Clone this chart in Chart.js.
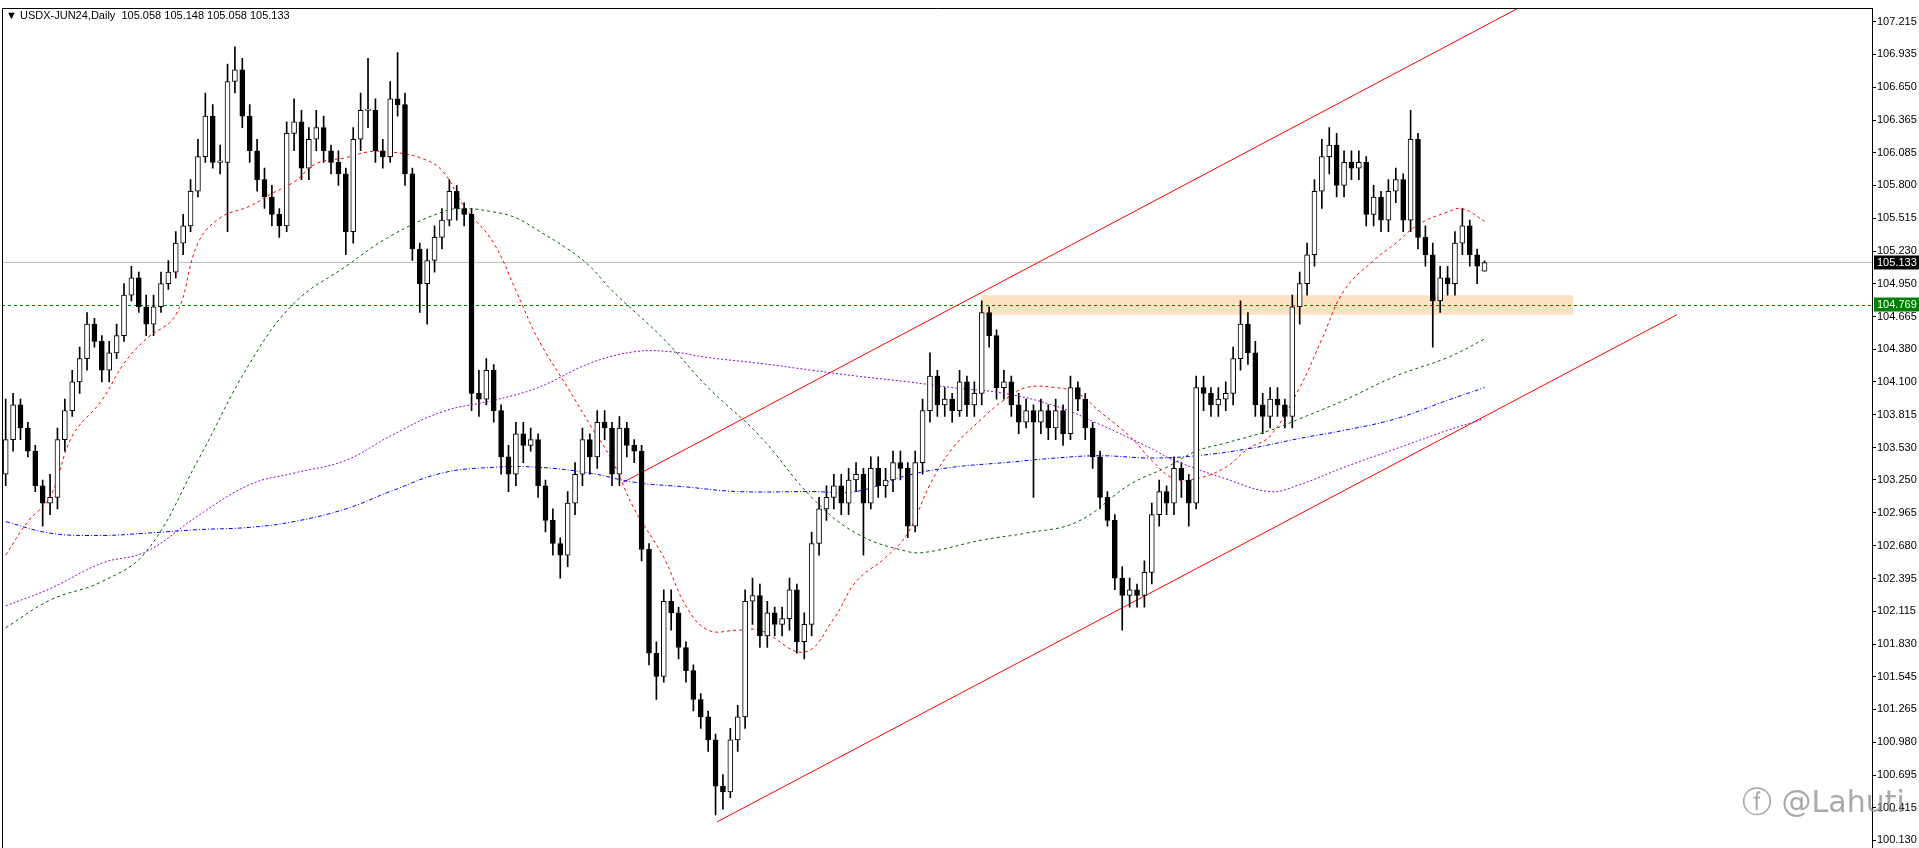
<!DOCTYPE html>
<html><head><meta charset="utf-8">
<script src="https://cdn.jsdelivr.net/npm/chart.js@4.4.1/dist/chart.umd.min.js"></script>
<style>html,body{margin:0;padding:0;background:#fff;overflow:hidden}#wrap{width:1919px;height:848px;position:relative}</style>
</head><body><div id="wrap"><canvas id="c"></canvas></div>
<script>
const opens=[103.3,103.6,103.9,103.7,103.5,103.2,103.05,103.1,103.6,103.85,
104.1,104.3,104.6,104.45,104.2,104.35,104.5,104.85,105.0,104.75,
104.6,104.75,104.95,105.05,105.3,105.45,105.75,106.05,106.4,106.0,
106.0,106.7,106.8,106.4,106.1,105.85,105.7,105.55,105.45,106.25,
106.35,105.95,106.2,106.3,106.1,106.0,105.9,105.4,106.2,106.45,
106.45,106.1,106.05,106.55,106.5,105.9,105.25,104.95,105.15,105.35,
105.5,105.75,105.6,105.55,104.0,103.95,104.2,103.85,103.45,103.3,
103.65,103.55,103.6,103.2,102.9,102.7,102.6,103.05,103.3,103.6,
103.45,103.75,103.7,103.3,103.7,103.55,103.5,102.65,101.75,101.55,
102.2,102.1,101.8,101.6,101.35,101.2,101.0,100.6,100.55,101.0,
101.2,102.2,102.25,101.9,102.1,102.0,102.05,102.3,101.85,102.0,
102.7,103.0,103.1,103.2,103.05,103.25,103.3,103.05,103.35,103.2,
103.25,103.4,103.35,102.85,103.4,103.85,104.15,103.9,103.95,103.85,
104.1,103.9,104.0,104.7,104.5,104.05,104.1,103.9,103.75,103.85,
103.75,103.85,103.7,103.85,103.65,104.05,103.95,103.7,103.45,103.1,
102.9,102.4,102.25,102.3,102.25,102.45,102.95,103.15,103.05,103.35,
103.25,103.05,104.05,104.0,103.9,103.95,104.0,104.3,104.6,104.35,
103.9,103.8,103.95,103.9,103.8,104.75,104.95,105.2,105.75,106.05,
106.15,105.8,106.0,105.95,106.0,105.55,105.7,105.5,105.75,105.85,
105.5,106.2,105.35,105.2,104.8,105.0,104.95,105.3,105.45,105.2,
105.058];
const highs=[103.95,104.0,103.95,103.75,103.55,103.25,103.3,103.7,103.95,104.2,
104.4,104.7,104.65,104.5,104.45,104.6,104.95,105.1,105.05,104.85,
104.85,105.05,105.15,105.4,105.55,105.85,106.2,106.6,106.5,106.15,
106.85,107.0,106.9,106.5,106.2,105.95,105.8,105.6,106.35,106.55,
106.45,106.3,106.45,106.4,106.15,106.1,105.95,106.3,106.6,106.9,
106.55,106.2,106.7,106.95,106.6,105.95,105.3,105.25,105.45,105.6,
105.85,105.8,105.65,105.6,104.2,104.3,104.25,103.9,103.55,103.75,
103.75,103.7,103.65,103.25,103.0,102.75,103.15,103.4,103.7,103.65,
103.85,103.85,103.75,103.8,103.75,103.6,103.55,102.7,101.85,102.3,
102.3,102.15,101.85,101.65,101.4,101.25,101.05,100.7,101.1,101.3,
102.3,102.4,102.35,102.2,102.15,102.15,102.4,102.35,102.1,102.8,
103.1,103.2,103.3,103.3,103.35,103.4,103.35,103.45,103.45,103.35,
103.5,103.5,103.4,103.5,103.95,104.35,104.2,104.05,104.0,104.2,
104.15,104.1,104.8,104.75,104.55,104.2,104.15,104.0,103.95,103.9,
103.95,103.9,103.95,103.9,104.15,104.1,104.0,103.75,103.5,103.15,
102.95,102.5,102.4,102.35,102.55,103.05,103.25,103.2,103.45,103.4,
103.3,104.15,104.15,104.05,104.05,104.1,104.4,104.8,104.7,104.45,
104.0,104.05,104.05,103.95,104.85,105.05,105.3,105.85,106.2,106.3,
106.25,106.1,106.1,106.1,106.05,105.8,105.75,105.85,105.95,105.9,
106.45,106.25,105.45,105.3,105.1,105.1,105.4,105.6,105.5,105.25,
105.148];
const lows=[103.2,103.5,103.6,103.45,103.15,102.85,102.95,103.0,103.5,103.8,
104.0,104.2,104.4,104.1,104.1,104.3,104.45,104.8,104.7,104.5,
104.5,104.7,104.9,105.0,105.2,105.4,105.7,106.0,105.95,105.9,
105.4,106.6,106.3,106.0,105.75,105.6,105.45,105.35,105.4,106.1,
105.85,105.85,106.1,106.0,105.9,105.8,105.2,105.3,106.1,106.3,
106.0,105.95,106.0,106.4,105.8,105.15,104.7,104.6,105.05,105.25,
105.45,105.5,105.45,103.85,103.8,103.9,103.75,103.3,103.15,103.2,
103.4,103.5,103.1,102.8,102.6,102.4,102.5,102.95,103.2,103.3,
103.35,103.6,103.2,103.2,103.45,103.4,102.55,101.65,101.35,101.5,
101.95,101.7,101.5,101.25,101.1,100.9,100.35,100.4,100.5,100.9,
101.1,102.0,101.8,101.8,101.9,101.9,101.95,101.75,101.7,101.9,
102.6,102.9,103.0,102.95,102.95,103.15,102.6,103.0,103.1,103.1,
103.15,103.25,102.75,102.8,103.3,103.75,103.8,103.8,103.75,103.8,
103.8,103.8,103.9,104.4,103.95,103.95,103.8,103.65,103.7,103.1,
103.65,103.6,103.6,103.55,103.6,103.85,103.6,103.35,103.0,102.85,
102.3,101.95,102.15,102.15,102.15,102.35,102.85,102.95,102.95,103.1,
102.85,103.0,103.85,103.8,103.8,103.85,103.9,104.2,104.25,103.8,
103.65,103.7,103.8,103.7,103.7,104.6,104.85,105.1,105.6,105.9,
105.7,105.7,105.85,105.85,105.45,105.45,105.4,105.4,105.65,105.4,
105.4,105.25,105.1,104.4,104.7,104.85,104.85,105.2,105.1,104.95,
105.058];
const closes=[103.6,103.9,103.7,103.5,103.2,103.05,103.1,103.6,103.85,104.1,
104.3,104.6,104.45,104.2,104.35,104.5,104.85,105.0,104.75,104.6,
104.75,104.95,105.05,105.3,105.45,105.75,106.05,106.4,106.0,106.0,
106.7,106.8,106.4,106.1,105.85,105.7,105.55,105.45,106.25,106.35,
105.95,106.2,106.3,106.1,106.0,105.9,105.4,106.2,106.45,106.45,
106.1,106.05,106.55,106.5,105.9,105.25,104.95,105.15,105.35,105.5,
105.75,105.6,105.55,104.0,103.95,104.2,103.85,103.45,103.3,103.65,
103.55,103.6,103.2,102.9,102.7,102.6,103.05,103.3,103.6,103.45,
103.75,103.7,103.3,103.7,103.55,103.5,102.65,101.75,101.55,102.2,
102.1,101.8,101.6,101.35,101.2,101.0,100.6,100.55,101.0,101.2,
102.2,102.25,101.9,102.1,102.0,102.05,102.3,101.85,102.0,102.7,
103.0,103.1,103.2,103.05,103.25,103.3,103.05,103.35,103.2,103.25,
103.4,103.35,102.85,103.4,103.85,104.15,103.9,103.95,103.85,104.1,
103.9,104.0,104.7,104.5,104.05,104.1,103.9,103.75,103.85,103.75,
103.85,103.7,103.85,103.65,104.05,103.95,103.7,103.45,103.1,102.9,
102.4,102.25,102.3,102.25,102.45,102.95,103.15,103.05,103.35,103.25,
103.05,104.05,104.0,103.9,103.95,104.0,104.3,104.6,104.35,103.9,
103.8,103.95,103.9,103.8,104.75,104.95,105.2,105.75,106.05,106.15,
105.8,106.0,105.95,106.0,105.55,105.7,105.5,105.75,105.85,105.5,
106.2,105.35,105.2,104.8,105.0,104.95,105.3,105.45,105.2,105.1,
105.133];

const maFastIdx=[0,3,6,9,13,16,19,23,26,29,33,36,39,42,46,49,52,56,59,62,66,69,72,76,79,82,85,89,92,95,99,102,108,112,115,119,122,125,128,132,135,138,142,145,148,152,155,158,161,165,168,171,175,178,181,185,188,191,195,197,200];
const maFast=[102.60,102.89,103.10,103.63,103.94,104.26,104.47,104.68,105.30,105.52,105.62,105.73,105.83,105.99,106.04,106.09,106.09,106.04,105.93,105.62,105.30,104.89,104.47,104.05,103.73,103.42,103.00,102.58,102.16,101.95,101.95,101.95,101.76,102.05,102.37,102.58,102.79,103.21,103.52,103.78,103.94,104.05,104.05,104.00,103.84,103.63,103.42,103.26,103.26,103.36,103.52,103.63,104.05,104.47,104.89,105.15,105.30,105.46,105.57,105.60,105.49];
const maMidIdx=[0,6,13,19,26,33,39,46,52,59,62,66,69,72,76,79,82,89,95,102,109,115,122,125,132,138,145,152,157,161,165,171,175,181,188,195,200];
const maMid=[101.97,102.21,102.37,102.63,103.42,104.26,104.78,105.10,105.36,105.57,105.60,105.57,105.52,105.41,105.25,105.10,104.89,104.47,104.05,103.63,103.10,102.79,102.63,102.63,102.73,102.79,102.89,103.21,103.36,103.50,103.57,103.68,103.78,103.94,104.15,104.31,104.47];
const maSlowIdx=[0,6,13,19,26,33,39,46,52,59,66,72,79,85,90,95,102,109,115,122,128,135,142,148,155,158,165,171,175,181,188,195,200];
const maSlow=[102.16,102.31,102.53,102.63,102.94,103.21,103.31,103.42,103.63,103.84,103.94,104.05,104.26,104.36,104.36,104.31,104.26,104.20,104.15,104.10,104.05,104.00,103.89,103.73,103.52,103.42,103.26,103.15,103.21,103.36,103.52,103.68,103.78];
const maLongIdx=[0,6,13,19,26,33,39,46,52,59,66,72,79,85,92,99,109,115,122,128,135,142,148,155,161,168,175,181,188,195,200];
const maLong=[102.89,102.79,102.77,102.79,102.82,102.84,102.89,103.00,103.15,103.31,103.36,103.36,103.31,103.23,103.19,103.15,103.15,103.15,103.29,103.36,103.40,103.44,103.46,103.44,103.46,103.52,103.61,103.68,103.78,103.94,104.05];
const chanUpper=[[83.5,103.23],[205,107.35]];
const chanLower=[[96.2,100.29],[226,104.68]];
const yTicks=[107.215,106.935,106.650,106.365,106.085,105.800,105.515,105.230,104.950,104.665,104.380,104.100,103.815,103.530,103.250,102.965,102.680,102.395,102.115,101.830,101.545,101.265,100.980,100.695,100.415,100.130];
const lastPrice=105.133, levelPrice=104.769;
const zone={from:132,to:212,lo:104.68,hi:104.85};

const pts=(ix,v)=>ix.map((x,k)=>({x:x,y:v[k]}));
const wicks=closes.map((c,i)=>({x:i,y:[lows[i],highs[i]]}));
const bodies=closes.map((c,i)=>{let a=Math.min(opens[i],c),b=Math.max(opens[i],c);if(b-a<0.012)b=a+0.012;return {x:i,y:[a,b]};});
const bodyCol=closes.map((c,i)=>c>=opens[i]?'#ffffff':'#000000');
const FONT='"Liberation Sans", Arial, sans-serif';

const deco={id:'deco',
beforeDatasetsDraw(ch){const {ctx,chartArea:a,scales:{x,y}}=ch;ctx.save();
 ctx.fillStyle='#fde2c2';const x1=x.getPixelForValue(zone.from),x2=x.getPixelForValue(zone.to);
 const y1=y.getPixelForValue(zone.hi),y2=y.getPixelForValue(zone.lo);ctx.fillRect(x1,y1,x2-x1,y2-y1);
 ctx.strokeStyle='#c0c0c0';ctx.lineWidth=1;let py=Math.round(y.getPixelForValue(lastPrice))+0.5;
 ctx.beginPath();ctx.moveTo(a.left,py);ctx.lineTo(a.right,py);ctx.stroke();
 ctx.strokeStyle='#008000';ctx.setLineDash([3,3]);py=Math.round(y.getPixelForValue(levelPrice))+0.5;
 ctx.beginPath();ctx.moveTo(a.left,py);ctx.lineTo(a.right,py);ctx.stroke();ctx.restore();},
afterDraw(ch){const {ctx,chartArea:a,scales:{y}}=ch;ctx.save();
 ctx.strokeStyle='#000';ctx.lineWidth=1;ctx.beginPath();ctx.moveTo(a.left+0.5,848);ctx.lineTo(a.left+0.5,a.top+0.5);ctx.lineTo(a.right+0.5,a.top+0.5);ctx.lineTo(a.right+0.5,848);ctx.stroke();
 ctx.font='11px '+FONT;ctx.textBaseline='middle';
 const box=(v,bg)=>{const py=y.getPixelForValue(v);ctx.fillStyle=bg;ctx.fillRect(a.right+2,py-7,45,14);ctx.fillStyle='#fff';ctx.fillText(v.toFixed(3),a.right+5,py+0.5);};
 box(lastPrice,'#000');box(levelPrice,'#008000');
 ctx.fillStyle='#000';ctx.font='11px '+FONT;ctx.fillText('\u25BC',6,16);ctx.fillText('USDX-JUN24,Daily  105.058 105.148 105.058 105.133',20,16);
 ctx.fillStyle='rgba(140,140,140,0.75)';ctx.font='30px "DejaVu Sans", sans-serif';ctx.fillText('\u24D5 @Lahuti',1742,804);
 ctx.restore();}};

new Chart(document.getElementById('c'),{
 data:{datasets:[
  {type:'line',data:pts(maLongIdx,maLong),borderColor:'#0000ff',borderWidth:1,borderDash:[4,2,1,2],pointRadius:0,tension:0.4},
  {type:'line',data:pts(maSlowIdx,maSlow),borderColor:'#9400d3',borderWidth:1,borderDash:[2,2],pointRadius:0,tension:0.4},
  {type:'line',data:pts(maMidIdx,maMid),borderColor:'#006400',borderWidth:1,borderDash:[3,3],pointRadius:0,tension:0.4},
  {type:'line',data:pts(maFastIdx,maFast),borderColor:'#ff0000',borderWidth:1,borderDash:[3,3],pointRadius:0,tension:0.4},
  {type:'bar',data:wicks,backgroundColor:'#000',barThickness:1,grouped:false,order:0},
  {type:'bar',data:bodies,backgroundColor:bodyCol,borderColor:'#000',borderWidth:1,borderSkipped:false,barThickness:5,grouped:false,order:-1},
  {type:'line',data:chanUpper.map(p=>({x:p[0],y:p[1]})),borderColor:'#ff0000',borderWidth:1,pointRadius:0},
  {type:'line',data:chanLower.map(p=>({x:p[0],y:p[1]})),borderColor:'#ff0000',borderWidth:1,pointRadius:0}
 ]},
 options:{responsive:true,maintainAspectRatio:false,animation:false,devicePixelRatio:1,
  layout:{padding:{top:8,left:2,right:0,bottom:0}},
  plugins:{legend:{display:false},tooltip:{enabled:false}},
  scales:{
   x:{type:'linear',display:false,min:-0.5,max:252.4,offset:false},
   y:{position:'right',min:100.13,max:107.336,
    afterBuildTicks(s){s.ticks=yTicks.map(v=>({value:v}));},
    afterFit(s){s.width=47;},
    grid:{drawOnChartArea:false,tickLength:4,color:'#000'},border:{color:'#000'},
    ticks:{padding:1,color:'#000',font:{family:FONT,size:11},callback:v=>v.toFixed(3),autoSkip:false}}
  }},
 plugins:[deco]});
</script></body></html>
